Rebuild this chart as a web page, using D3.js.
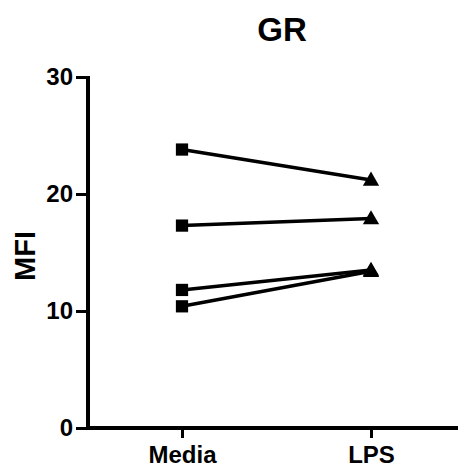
<!DOCTYPE html>
<html>
<head>
<meta charset="utf-8">
<script src="https://cdn.jsdelivr.net/npm/d3@7"></script>
<style>
  body { margin: 0; background: #fff; }
  text { font-family: "Liberation Sans", Arial, sans-serif; font-weight: bold; fill: #000; }
</style>
</head>
<body>
<div id="mainDiv"></div>
<script>
'use strict';

// dados
var groups = ['Media', 'LPS'];
var mediaValues = [23.8, 17.3, 11.8, 10.4];
var lpsValues = [21.2, 17.9, 13.5, 13.4];
var yTicks = [0, 10, 20, 30];
var title = 'GR';
var yLabel = 'MFI';

var W = 458, H = 471;
var margins = {top: 77, bottom: 43, left: 88, right: 0};

var svg = d3.select('#mainDiv').append('svg')
    .attr('width', W)
    .attr('height', H);

var x = d3.scalePoint().domain(groups).range([182, 371]);
var y = d3.scaleLinear().domain([0, 30]).range([H - margins.bottom, margins.top]);

// eixo y
var yAxis = svg.append('g')
    .attr('transform', 'translate(' + margins.left + ',0)')
    .call(d3.axisLeft(y).tickValues(yTicks).tickSize(12).tickPadding(3));
yAxis.select('.domain').attr('stroke-width', 4).attr('d', 'M0,' + (y(30) - 1) + 'V' + (y(0) + 2));
yAxis.selectAll('.tick line').attr('stroke-width', 3);
yAxis.selectAll('.tick text').style('font-size', '24px').attr('dy', '0.3em');

// eixo x
var xAxis = svg.append('g')
    .attr('transform', 'translate(0,' + y(0) + ')')
    .call(d3.axisBottom(x).tickSize(10).tickPadding(8));
xAxis.select('.domain').attr('stroke-width', 4).attr('d', 'M' + (margins.left - 2) + ',0H' + W);
xAxis.selectAll('.tick line').attr('stroke-width', 3);
xAxis.selectAll('.tick text').style('font-size', '24px');

// linhas pareadas
var pairs = mediaValues.map(function(v, i) { return [v, lpsValues[i]]; });

svg.selectAll('.pair')
    .data(pairs)
    .enter()
    .append('line')
    .attr('class', 'pair')
    .attr('x1', x('Media'))
    .attr('x2', x('LPS'))
    .attr('y1', function(d) { return y(d[0]); })
    .attr('y2', function(d) { return y(d[1]); })
    .attr('stroke', '#000')
    .attr('stroke-width', 3.5);

var square = d3.symbol().type(d3.symbolSquare).size(150);
var triangle = d3.symbol().type(d3.symbolTriangle).size(115);

svg.selectAll('.sq')
    .data(mediaValues)
    .enter()
    .append('path')
    .attr('class', 'sq')
    .attr('d', square)
    .attr('transform', function(d) { return 'translate(' + x('Media') + ',' + y(d) + ')'; })
    .attr('fill', '#000');

svg.selectAll('.tri')
    .data(lpsValues)
    .enter()
    .append('path')
    .attr('class', 'tri')
    .attr('d', triangle)
    .attr('transform', function(d) { return 'translate(' + x('LPS') + ',' + (y(d) + 1) + ')'; })
    .attr('fill', '#000');

// título e rótulo
svg.append('text')
    .attr('x', 282)
    .attr('y', 41)
    .attr('text-anchor', 'middle')
    .style('font-size', '33px')
    .text(title);

svg.append('text')
    .attr('transform', 'translate(35,' + 256 + ') rotate(-90)')
    .attr('text-anchor', 'middle')
    .style('font-size', '29px')
    .text(yLabel);
</script>
</body>
</html>
